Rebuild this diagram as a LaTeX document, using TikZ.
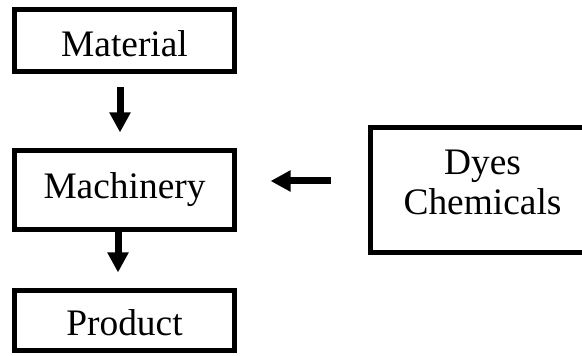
\documentclass[tikz,border=0pt]{standalone}
\usepackage{fontspec}
\setmainfont{Liberation Serif}
\usetikzlibrary{positioning,arrows.meta}

\begin{document}
\begin{tikzpicture}[x=0.5pt,y=-0.5pt,node distance=74.75pt,on grid,
        box/.style={draw,line width=2.5pt,minimum width=110pt,inner sep=0pt,font=\fontsize{18.7}{20}\selectfont},
        flow/.style={line width=3.5pt,-{Triangle[width=10pt,length=10pt]}}]
        \useasboundingbox (0,0) rectangle (582,356);
        \node[box,minimum height=31pt,text height=16pt,text depth=0pt] (mat) at (124.5,40.5) {Material};
        \node[box,minimum height=39.5pt,below=of mat] (mach) {Machinery};
        \node[box,minimum height=30pt,text height=15pt,text depth=0pt,below=65.25pt of mach] (prod) {Product};
        \node[box,minimum width=112pt,minimum height=62.5pt,align=center,text depth=8pt,right=179pt of mach] (dyes) {Dyes\\Chemicals};
        \path[flow]
                ([xshift=-2.25pt]mat.south) edge[shorten <=6.75pt,shorten >=7.75pt] ([xshift=-2.25pt]mach.north)
                ([xshift=-3.25pt]mach.south) edge[shorten <=-2pt,shorten >=7.75pt] ([xshift=-3.25pt]prod.north)
                ([yshift=4.5pt]dyes.west) edge[shorten <=18.75pt,shorten >=16.75pt] ([yshift=4.5pt]mach.east);
\end{tikzpicture}
\end{document}
